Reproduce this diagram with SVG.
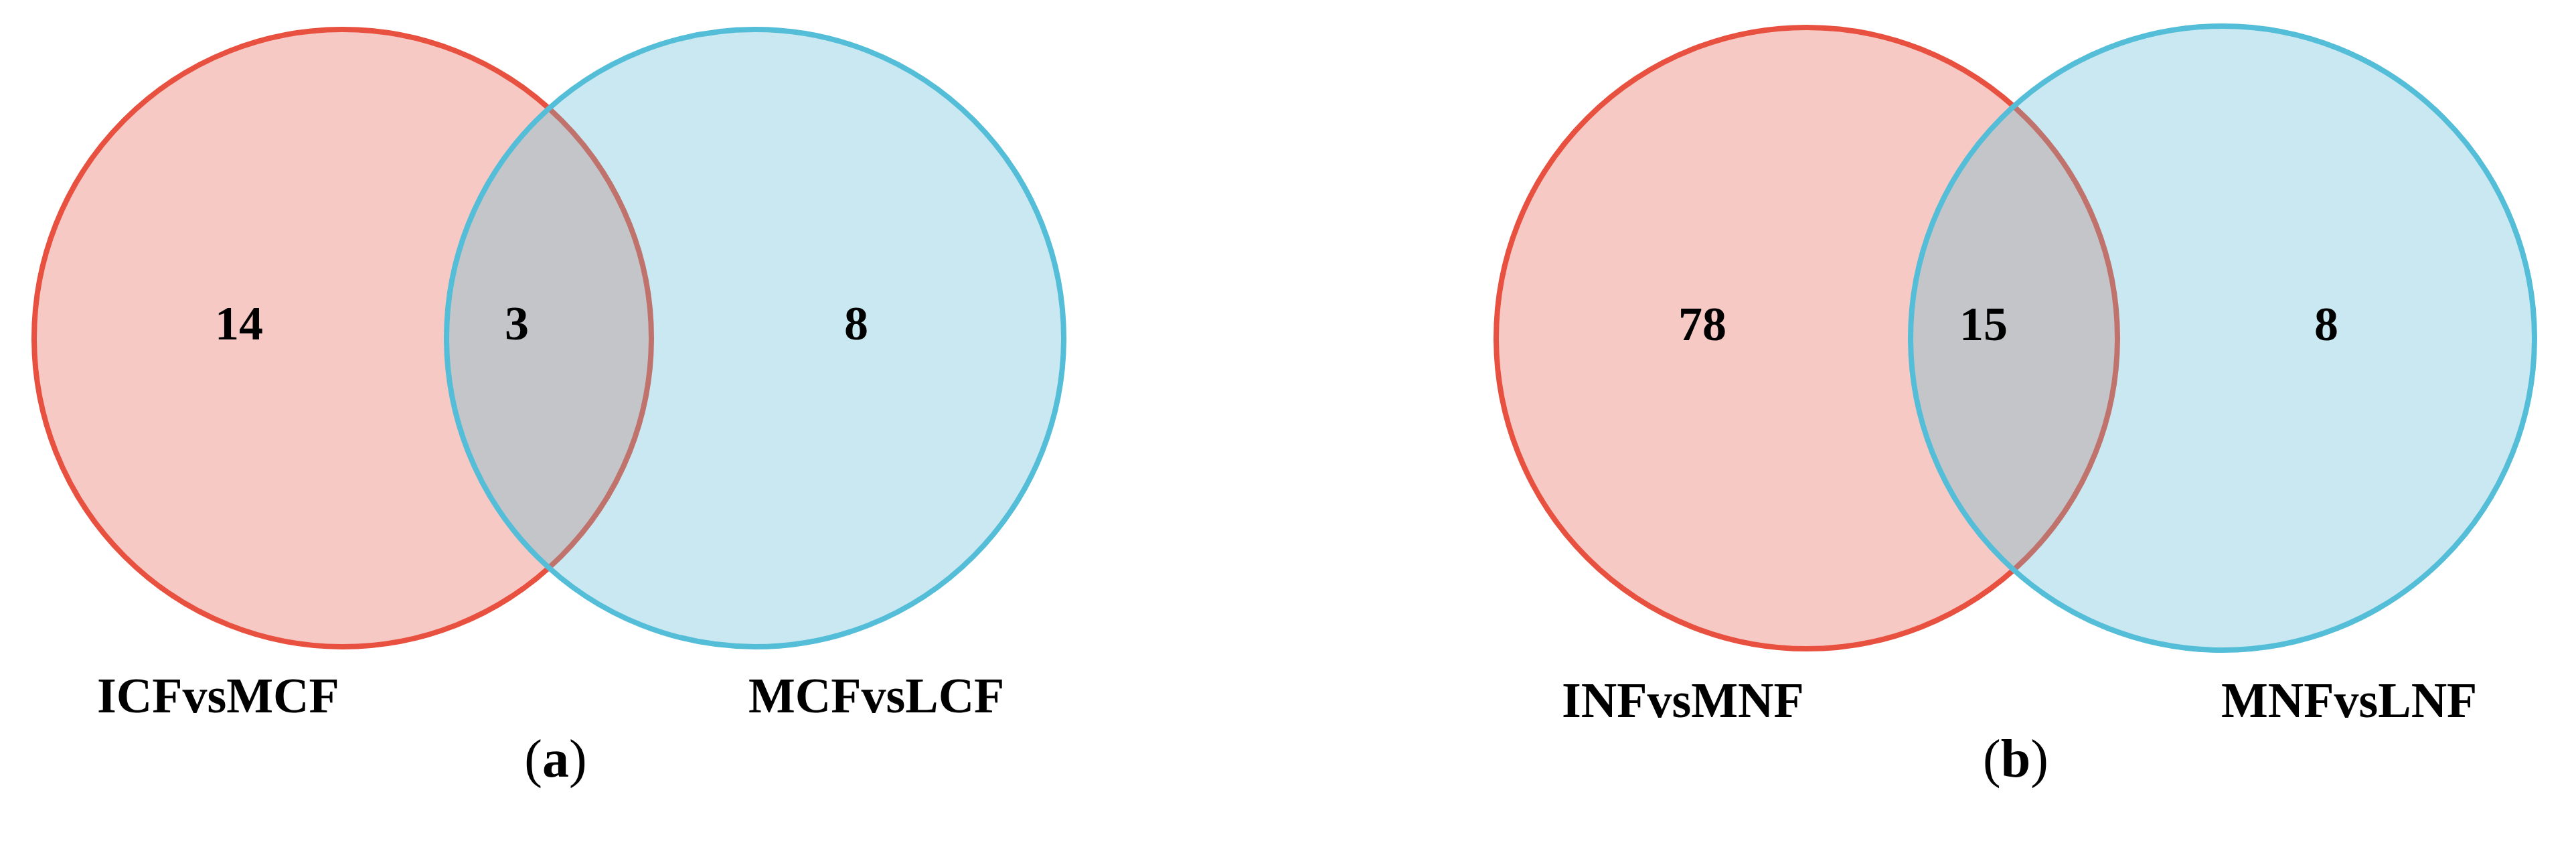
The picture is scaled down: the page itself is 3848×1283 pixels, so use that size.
<svg xmlns="http://www.w3.org/2000/svg" width="3848" height="1283" viewBox="0 0 3848 1283">
<defs>
<style>
.redfill{fill:#F7C9C5;stroke:#E8503F;stroke-width:8}
.bluefill{fill:#C9E8F1;stroke:none}
.lens{fill:#C4C5C9;stroke:#C0726C;stroke-width:8}
.bluestroke{fill:none;stroke:#54BDD7;stroke-width:8}
.num{font-family:"Liberation Serif","Times New Roman",serif;font-weight:bold;font-size:72px;fill:#000;text-anchor:middle}
.lbl{font-family:"Liberation Serif","Times New Roman",serif;font-weight:bold;font-size:74px;fill:#000}
.cap{font-family:"Liberation Serif","Times New Roman",serif;font-size:80px;fill:#000;text-anchor:middle}
</style>
<clipPath id="clipA"><circle cx="1128" cy="505" r="461"/></clipPath>
<clipPath id="clipB"><circle cx="3320" cy="505" r="466"/></clipPath>
</defs>
<g id="panel-a">
<g id="set-ICFvsMCF"><circle class="redfill" cx="512" cy="505" r="461"/></g>
<g id="set-MCFvsLCF"><circle class="bluefill" cx="1128" cy="505" r="461"/></g>
<g id="overlap-a"><circle class="lens" cx="512" cy="505" r="461" clip-path="url(#clipA)"/></g>
<circle class="bluestroke" cx="1128" cy="505" r="461"/>
<text class="num" x="357" y="507">14</text>
<text class="num" x="772" y="507">3</text>
<text class="num" x="1279" y="507">8</text>
<text class="lbl" x="145" y="1064">ICFvsMCF</text>
<text class="lbl" x="1118" y="1064">MCFvsLCF</text>
<text class="cap" x="830" y="1160">(<tspan font-weight="bold">a</tspan>)</text>
</g>
<g id="panel-b">
<g id="set-INFvsMNF"><circle class="redfill" cx="2699" cy="505" r="464"/></g>
<g id="set-MNFvsLNF"><circle class="bluefill" cx="3320" cy="505" r="466"/></g>
<g id="overlap-b"><circle class="lens" cx="2699" cy="505" r="464" clip-path="url(#clipB)"/></g>
<circle class="bluestroke" cx="3320" cy="505" r="466"/>
<text class="num" x="2543" y="508">78</text>
<text class="num" x="2963" y="508">15</text>
<text class="num" x="3475" y="508">8</text>
<text class="lbl" x="2333" y="1071">INFvsMNF</text>
<text class="lbl" x="3318" y="1071">MNFvsLNF</text>
<text class="cap" x="3011" y="1160">(<tspan font-weight="bold">b</tspan>)</text>
</g>
<g id="connectors"/>
</svg>
